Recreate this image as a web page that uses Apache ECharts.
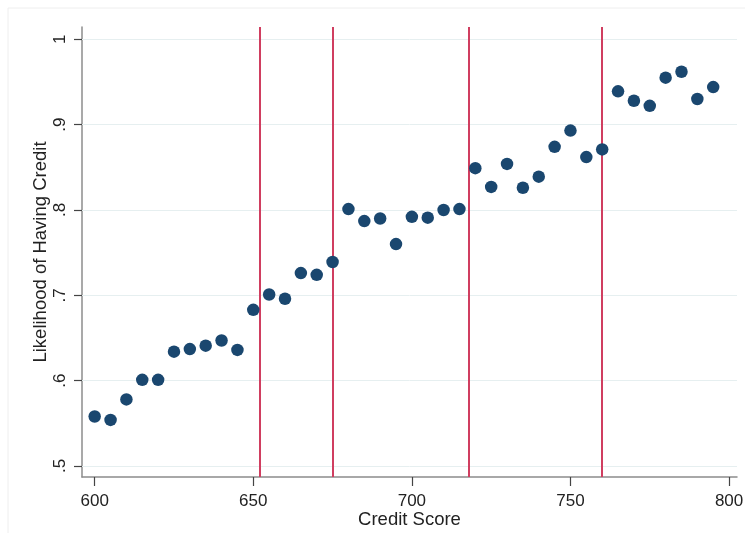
<!DOCTYPE html>
<html>
<head>
<meta charset="utf-8">
<script src="https://cdn.jsdelivr.net/npm/echarts@6/dist/echarts.min.js"></script>
<style>html,body{margin:0;padding:0;background:#fff;}#c{width:745px;height:533px;}</style>
</head>
<body>
<div id="c"></div>
<script>
var creditScores = [600,605,610,615,620,625,630,635,640,645,650,655,660,665,670,675,680,685,690,695,700,705,710,715,720,725,730,735,740,745,750,755,760,765,770,775,780,785,790,795];
var likelihood = [0.558,0.554,0.578,0.601,0.601,0.634,0.637,0.641,0.647,0.636,0.683,0.701,0.696,0.726,0.724,0.739,0.801,0.787,0.790,0.760,0.792,0.791,0.800,0.801,0.849,0.827,0.854,0.826,0.839,0.874,0.893,0.862,0.871,0.939,0.928,0.922,0.955,0.962,0.930,0.944];
var cutoffs = [652,675,718,760];
var xTicks = [600,650,700,750,800];
var yTicks = [0.5,0.6,0.7,0.8,0.9,1.0];
var yTickLabels = ['.5','.6','.7','.8','.9','1'];

var pts = creditScores.map(function(x,i){return [x, likelihood[i]];});
var font = 'Liberation Sans, Arial, sans-serif';

var chart = echarts.init(document.getElementById('c'));
chart.setOption({
  animation: false,
  backgroundColor: '#ffffff',
  graphic: [{type:'rect', shape:{x:8,y:8,width:800,height:600}, style:{fill:'none', stroke:'#eeeeee', lineWidth:1}, silent:true}],
  grid: {left: 82, top: 27, right: 8, bottom: 56, containLabel: false, outerBoundsMode: 'none'},
  xAxis: {
    type: 'value', min: 596, max: 802.5,
    name: 'Credit Score', nameLocation: 'middle', nameGap: 33, nameMoveOverlap: false,
    nameTextStyle: {fontFamily: font, fontSize: 18.5, color: '#222'},
    axisLine: {show: true, lineStyle: {color: '#8c8c8c', width: 1.5}},
    axisTick: {show: true, customValues: xTicks, length: 9, lineStyle: {color: '#444', width: 1.2}},
    axisLabel: {customValues: xTicks, margin: 16, fontFamily: font, fontSize: 17, color: '#222'},
    splitLine: {show: false}
  },
  yAxis: {
    type: 'value', min: 0.4871, max: 1.0144,
    name: 'Likelihood of Having Credit', nameLocation: 'middle', nameGap: 32, nameMoveOverlap: false,
    nameTextStyle: {fontFamily: font, fontSize: 18.5, color: '#222'},
    axisLine: {show: true, lineStyle: {color: '#8c8c8c', width: 1.5}},
    axisTick: {show: true, customValues: yTicks, length: 8, lineStyle: {color: '#444', width: 1.2}},
    axisLabel: {customValues: yTicks, rotate: 90, margin: 13, fontFamily: font, fontSize: 17, color: '#222',
      formatter: function(v){ var i = yTicks.findIndex(function(t){return Math.abs(t-v)<1e-6;}); return i>=0 ? yTickLabels[i] : ''; }},
    splitLine: {show: false}
  },
  series: [
    {
      type: 'line', data: [], z: 1, silent: true,
      markLine: {
        silent: true, symbol: 'none', label: {show: false}, animation: false,
        lineStyle: {type: 'solid'},
        data: yTicks.map(function(v){return {yAxis: v, lineStyle: {color: '#e6eff0', width: 1}};})
          .concat(cutoffs.map(function(v){return {xAxis: v, lineStyle: {color: '#d03e60', width: 2}};}))
      }
    },
    {
      type: 'scatter', data: pts, z: 5, symbol: 'circle', symbolSize: 12.5,
      itemStyle: {color: '#1a476f', opacity: 1}
    }
  ]
});
</script>
</body>
</html>
